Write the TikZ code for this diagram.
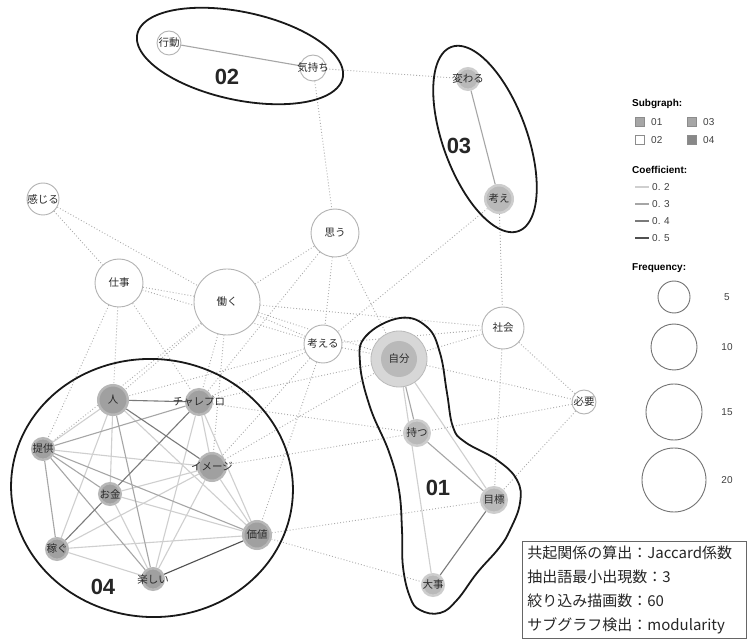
\documentclass[tikz,border=0pt]{standalone}
\usepackage{fontspec}
\setmainfont{Liberation Sans}
\newfontfamily\jp{Noto Sans CJK JP}
\pgfdeclarelayer{bgl}
\pgfdeclarelayer{edges}
\pgfsetlayers{bgl,edges,main}
\definecolor{wring}{HTML}{B3B3B3}
\definecolor{gAin}{HTML}{B9B9B9}
\definecolor{gAout}{HTML}{CDCDCD}
\definecolor{gBin}{HTML}{A0A0A0}
\definecolor{gBout}{HTML}{B7B7B7}
\definecolor{dotc}{HTML}{ABABAB}
\definecolor{cA}{HTML}{CFCFCF}
\definecolor{cB}{HTML}{A6A6A6}
\definecolor{cC}{HTML}{7A7A7A}
\definecolor{cD}{HTML}{505050}
\definecolor{txt}{HTML}{2A2A2A}
\begin{document}
\begin{tikzpicture}[x=1pt,y=-1pt,
  wn/.style={circle, draw=wring, fill=white, line width=0.9pt, inner sep=0pt},
  ga/.style={circle, draw=gAout, fill=gAin, line width=2.5pt, inner sep=0pt},
  gb/.style={circle, draw=gBout, fill=gBin, line width=2.5pt, inner sep=0pt},
  lbl/.style={font=\jp\fontsize{10.5}{12}\selectfont, text=txt, inner sep=0pt},
  dotE/.style={draw=dotc, line width=0.9pt, dash pattern=on 0.9pt off 2.1pt},
  eA/.style={draw=cA, line width=1.1pt},
  eB/.style={draw=cB, line width=1.1pt},
  eC/.style={draw=cC, line width=1.1pt},
  eD/.style={draw=cD, line width=1.1pt},
  clus/.style={draw=black!90, line width=1.8pt},
  big/.style={font=\bfseries\fontsize{22}{24}\selectfont, text=black!85},
  legh/.style={font=\bfseries\fontsize{10}{12}\selectfont, anchor=west, inner sep=0pt},
  legt/.style={font=\fontsize{10}{12}\selectfont, text=black!75, anchor=west, inner sep=0pt},
  sq/.style={rectangle, draw=black!45, line width=0.6pt, minimum size=9pt, inner sep=0pt},
  fq/.style={circle, draw=black!55, line width=0.9pt, inner sep=0pt},
  fqt/.style={font=\fontsize{10}{12}\selectfont, text=black!75}
]
\begin{pgfonlayer}{bgl}
\fill[white] (0,0) rectangle (748,639);
\end{pgfonlayer}
\useasboundingbox (0,0) rectangle (748,639);

% white nodes
\node[wn, minimum size=24pt, label={[lbl]center:行動}] (koudou) at (169,43) {};
\node[wn, minimum size=26pt, label={[lbl]center:気持ち}] (kimochi) at (313,68) {};
\node[wn, minimum size=32pt, label={[lbl]center:感じる}] (kanjiru) at (43,199) {};
\node[wn, minimum size=48pt, label={[lbl]center:思う}] (omou) at (335,233) {};
\node[wn, minimum size=48pt, label={[lbl]center:仕事}] (shigoto) at (119,283) {};
\node[wn, minimum size=66pt, label={[lbl]center:働く}] (hataraku) at (227,302) {};
\node[wn, minimum size=38pt, label={[lbl]center:考える}] (kangaeru) at (323,344) {};
\node[wn, minimum size=42pt, label={[lbl]center:社会}] (shakai) at (503,328) {};
\node[wn, minimum size=24pt, label={[lbl]center:必要}] (hitsuyo) at (584,402) {};
% cluster 03 / 01
\node[ga, minimum size=21.5pt, label={[lbl]center:変わる}] (kawaru) at (468,79) {};
\node[ga, minimum size=27.5pt, label={[lbl]center:考え}] (kangae) at (499,199) {};
\node[circle, draw=black!27, fill=gAout!80!white, line width=0.8pt, inner sep=0pt, minimum size=56pt,
  path picture={\fill[gAin] (path picture bounding box.center) circle[radius=18pt];},
  label={[lbl]center:自分}] (jibun) at (399,359) {};
\node[ga, minimum size=25.5pt, label={[lbl]center:持つ}] (motsu) at (417,433) {};
\node[ga, minimum size=25.5pt, label={[lbl]center:目標}] (mokuhyo) at (494,500) {};
\node[ga, minimum size=21.5pt, label={[lbl]center:大事}] (daiji) at (433,585) {};
% cluster 04
\node[gb, minimum size=29.5pt, label={[lbl]center:人}] (hito) at (113,400) {};
\node[gb, minimum size=25.5pt, label={[lbl]center:チャレプロ}] (chare) at (199,402) {};
\node[gb, minimum size=21.5pt, label={[lbl]center:提供}] (teikyo) at (43,449) {};
\node[gb, minimum size=27.5pt, label={[lbl]center:イメージ}] (image) at (212,467) {};
\node[gb, minimum size=21.5pt, label={[lbl]center:お金}] (okane) at (110,494) {};
\node[gb, minimum size=21.5pt, label={[lbl]center:稼ぐ}] (kasegu) at (57,549) {};
\node[gb, minimum size=27.5pt, label={[lbl]center:価値}] (kachi) at (257,535) {};
\node[gb, minimum size=21.5pt, label={[lbl]center:楽しい}] (tanoshii) at (153,579) {};

\begin{pgfonlayer}{edges}
\foreach \a/\b in {kimochi/kawaru, kimochi/omou, kanjiru/shigoto, kanjiru/hataraku,
  shigoto/hataraku, shigoto/kangaeru, shigoto/teikyo, shigoto/hito, shigoto/chare,
  hataraku/omou, hataraku/shakai, hataraku/kangaeru, hataraku/jibun, hataraku/hito,
  hataraku/chare, hataraku/image, hataraku/teikyo, omou/kangaeru, omou/jibun, omou/chare,
  kangae/kangaeru, kangae/shakai, shakai/jibun, shakai/hitsuyo, shakai/mokuhyo,
  jibun/hitsuyo, hitsuyo/motsu, hitsuyo/mokuhyo, kangaeru/jibun, kangaeru/shakai,
  kangaeru/hito, kangaeru/chare, kangaeru/image, kangaeru/kachi, chare/motsu,
  image/motsu, image/jibun, kachi/mokuhyo, kachi/daiji, chare/jibun}
  \draw[dotE] (\a) -- (\b);
% solid edges
\draw[eB] (koudou) -- (kimochi);
\draw[eB] (kawaru) -- (kangae);
\draw[eB] (jibun) -- (motsu);
\draw[eA] (jibun) -- (daiji);
\draw[eA] (jibun) -- (mokuhyo);
\draw[eB] (motsu) -- (mokuhyo);
\draw[eC] (mokuhyo) -- (daiji);
\foreach \a/\b in {hito/teikyo, hito/okane, hito/kasegu, hito/kachi, chare/image,
  chare/tanoshii, chare/kachi, teikyo/image, image/okane, image/kasegu, image/tanoshii,
  image/kachi, okane/tanoshii, okane/kachi, kasegu/kachi, kasegu/tanoshii}
  \draw[eA] (\a) -- (\b);
\foreach \a/\b in {hito/tanoshii, chare/teikyo, teikyo/okane, teikyo/kasegu,
  teikyo/tanoshii, teikyo/kachi}
  \draw[eB] (\a) -- (\b);
\foreach \a/\b in {hito/chare, hito/image, chare/okane, okane/kasegu}
  \draw[eC] (\a) -- (\b);
\draw[eD] (tanoshii) -- (kachi);
\end{pgfonlayer}

% cluster outlines
\draw[clus] plot[domain=0:360, samples=150, smooth, variable=\t]
  ({240 + 105*cos(\t)*cos(12) - 44*sin(\t)*sin(12)}, {56 + 105*cos(\t)*sin(12) + 44*sin(\t)*cos(12)}) -- cycle;
\draw[clus] plot[domain=0:360, samples=150, smooth, variable=\t]
  ({485 + 98*cos(\t)*cos(70) - 42*sin(\t)*sin(70)}, {139 + 98*cos(\t)*sin(70) + 42*sin(\t)*cos(70)}) -- cycle;
\draw[clus] plot[domain=0:360, samples=180, smooth, variable=\t]
  ({152 + 141*cos(\t)*cos(4) - 129*sin(\t)*sin(4)}, {488 + 141*cos(\t)*sin(4) + 129*sin(\t)*cos(4)}) -- cycle;
\draw[clus] plot[smooth cycle, tension=0.7] coordinates {(400,318) (427,327) (440,353) (447,393) (453,427)
  (465,442) (497,460) (517,480) (520,503) (510,530) (499,548) (477,573) (457,600) (440,613) (420,610)
  (410,597) (403,567) (402,530) (399,490) (389,452) (370,407) (360,363) (366,336)};

\node[big] (l02) at (227,77) {02};
\node[big] (l03) at (459,146) {03};
\node[big] (l01) at (438,488) {01};
\node[big] (l04) at (103,587) {04};

% legend
\node[legh] (hsub) at (632,104) {Subgraph:};
\node[sq, fill=gAin!90!black] (s01) at (640,122) {};
\node[legt] (t01) at (651,122) {01};
\node[sq, fill=gAin!90!black] (s03) at (692,122) {};
\node[legt] (t03) at (703,122) {03};
\node[sq, fill=white] (s02) at (640,140) {};
\node[legt] (t02) at (651,140) {02};
\node[sq, fill=gBin!85!black] (s04) at (692,140) {};
\node[legt] (t04) at (703,140) {04};

\node[legh] (hcoef) at (632,170) {Coefficient:};
\coordinate (a2) at (635,187); \coordinate (b2) at (649,187);
\coordinate (a3) at (635,204); \coordinate (b3) at (649,204);
\coordinate (a4) at (635,221); \coordinate (b4) at (649,221);
\coordinate (a5) at (635,238); \coordinate (b5) at (649,238);
\draw[eA] (a2) -- (b2); \draw[eB] (a3) -- (b3); \draw[eC] (a4) -- (b4); \draw[eD] (a5) -- (b5);
\node[legt] (c2) at (652,187) {0. 2};
\node[legt] (c3) at (652,204) {0. 3};
\node[legt] (c4) at (652,221) {0. 4};
\node[legt] (c5) at (652,238) {0. 5};

\node[legh] (hfreq) at (632,268) {Frequency:};
\node[fq, minimum size=32pt] (f5) at (674,297) {};
\node[fq, minimum size=46pt] (f10) at (674,347) {};
\node[fq, minimum size=56pt] (f15) at (674,412) {};
\node[fq, minimum size=64pt] (f20) at (674,480) {};
\node[fqt] (n5) at (727,297) {5};
\node[fqt] (n10) at (727,347) {10};
\node[fqt] (n15) at (727,412) {15};
\node[fqt] (n20) at (727,480) {20};

% info box
\node[draw=black!60, line width=0.8pt, anchor=north west, inner xsep=5pt, inner ysep=0pt,
  text width=214pt, minimum height=97pt, align=left,
  font=\jp\fontsize{15}{24}\selectfont, text=black!85] (info) at (522,541)
  {共起関係の算出：Jaccard係数\\抽出語最小出現数：3\\絞り込み描画数：60\\サブグラフ検出：modularity};
\end{tikzpicture}
\end{document}
